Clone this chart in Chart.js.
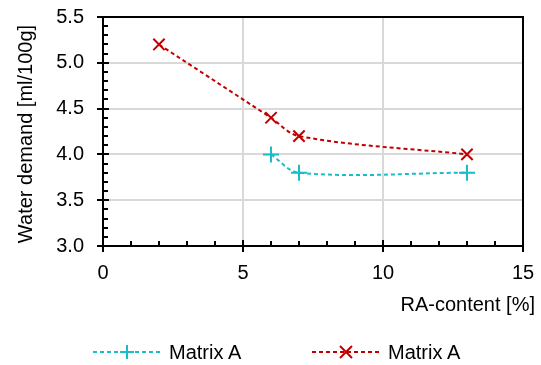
<!DOCTYPE html>
<html>
<head>
<meta charset="utf-8">
<script src="https://cdn.jsdelivr.net/npm/chart.js@4/dist/chart.umd.min.js"></script>
<style>
  body { margin: 0; background: #fff; }
  #wrap { position: relative; width: 541px; height: 365px; }
  .legend { position: absolute; top: 340px; font: 20px "Liberation Sans", Arial, sans-serif; color: #000; display: flex; align-items: center; }
  .legend svg { margin-right: 8px; }
</style>
</head>
<body>
<div id="wrap">
  <canvas id="chart" width="541" height="365"></canvas>
  <div class="legend" style="left:93px">
    <svg width="68" height="24"><line x1="0" y1="12" x2="68" y2="12" stroke="#19bcc8" stroke-width="2" stroke-dasharray="4,3"/><path d="M34 5 V19 M27 12 H41" stroke="#19bcc8" stroke-width="2"/></svg>
    <span>Matrix A</span>
  </div>
  <div class="legend" style="left:312px">
    <svg width="68" height="24"><line x1="0" y1="12" x2="68" y2="12" stroke="#c00000" stroke-width="2" stroke-dasharray="4,3"/><path d="M28 6 L40 18 M40 6 L28 18" stroke="#c00000" stroke-width="2"/></svg>
    <span>Matrix A</span>
  </div>
</div>
<script>
// values
const tealX = [6, 7, 13];
const tealY = [4.0, 3.8, 3.8];
const redX = [2, 6, 7, 13];
const redY = [5.2, 4.4, 4.2, 4.0];
const seriesLabels = ['Matrix A', 'Matrix A'];
const xTitle = 'RA-content [%]';
const yTitle = 'Water demand [ml/100g]';

const FONT = '"Liberation Sans", Arial, sans-serif';

const toPoints = (xs, ys) => xs.map((x, i) => ({ x, y: ys[i] }));

// frame, tick marks (major + minor) and axis titles
const axisDecor = {
  id: 'axisDecor',
  afterDraw(chart) {
    const { ctx, chartArea: a, scales: { x, y } } = chart;
    ctx.save();
    ctx.strokeStyle = '#000';
    ctx.lineWidth = 2;
    ctx.strokeRect(a.left, a.top, a.right - a.left, a.bottom - a.top);

    ctx.beginPath();
    for (let v = 0; v <= 15; v++) {
      const px = Math.round(x.getPixelForValue(v));
      if (v % 5 === 0) {
        ctx.moveTo(px, a.bottom + 6);
        ctx.lineTo(px, a.bottom - 6);
      } else {
        ctx.moveTo(px, a.bottom);
        ctx.lineTo(px, a.bottom - 5);
      }
    }
    for (let i = 0; i <= 25; i++) {
      const py = Math.round(y.getPixelForValue(3 + i * 0.1));
      if (i % 5 === 0) {
        ctx.moveTo(a.left - 6, py);
        ctx.lineTo(a.left + 6, py);
      } else {
        ctx.moveTo(a.left, py);
        ctx.lineTo(a.left + 5, py);
      }
    }
    ctx.stroke();

    ctx.fillStyle = '#000';
    ctx.font = '20px ' + FONT;
    ctx.textAlign = 'right';
    ctx.textBaseline = 'middle';
    ctx.fillText(xTitle, 535, 305);

    ctx.translate(26, 134);
    ctx.rotate(-Math.PI / 2);
    ctx.textAlign = 'center';
    ctx.fillText(yTitle, 0, 0);
    ctx.restore();
  },
};

new Chart(document.getElementById('chart'), {
  type: 'scatter',
  data: {
    datasets: [
      {
        label: seriesLabels[0],
        data: toPoints(tealX, tealY),
        showLine: true,
        borderColor: '#19bcc8',
        backgroundColor: '#19bcc8',
        borderWidth: 2,
        borderDash: [4, 3],
        tension: 0.35,
        pointStyle: 'cross',
        pointRadius: 8,
        pointBorderWidth: 2,
      },
      {
        label: seriesLabels[1],
        data: toPoints(redX, redY),
        showLine: true,
        borderColor: '#c00000',
        backgroundColor: '#c00000',
        borderWidth: 2,
        borderDash: [4, 3],
        tension: 0.35,
        pointStyle: 'crossRot',
        pointRadius: 8,
        pointBorderWidth: 2,
      },
    ],
  },
  options: {
    responsive: false,
    animation: false,
    layout: { padding: { top: 17, right: 18, left: 0, bottom: 0 } },
    plugins: {
      legend: { display: false },
      tooltip: { enabled: false },
    },
    scales: {
      x: {
        type: 'linear',
        min: 0,
        max: 15,
        afterFit: (scale) => {
          scale.height = 119;
          scale.paddingLeft = 0;
          scale.paddingRight = 0;
        },
        border: { display: false },
        grid: { color: '#d9d9d9', lineWidth: 2, drawTicks: false },
        ticks: {
          stepSize: 5,
          padding: 15,
          color: '#000',
          font: { family: FONT, size: 20 },
        },
      },
      y: {
        min: 3,
        max: 5.5,
        afterFit: (scale) => {
          scale.width = 103;
          scale.paddingTop = 0;
          scale.paddingBottom = 0;
        },
        border: { display: false },
        grid: { color: '#d9d9d9', lineWidth: 2, drawTicks: false },
        ticks: {
          stepSize: 0.5,
          padding: 19,
          color: '#000',
          font: { family: FONT, size: 20 },
          callback: (v) => v.toFixed(1),
        },
      },
    },
  },
  plugins: [axisDecor],
});
</script>
</body>
</html>
